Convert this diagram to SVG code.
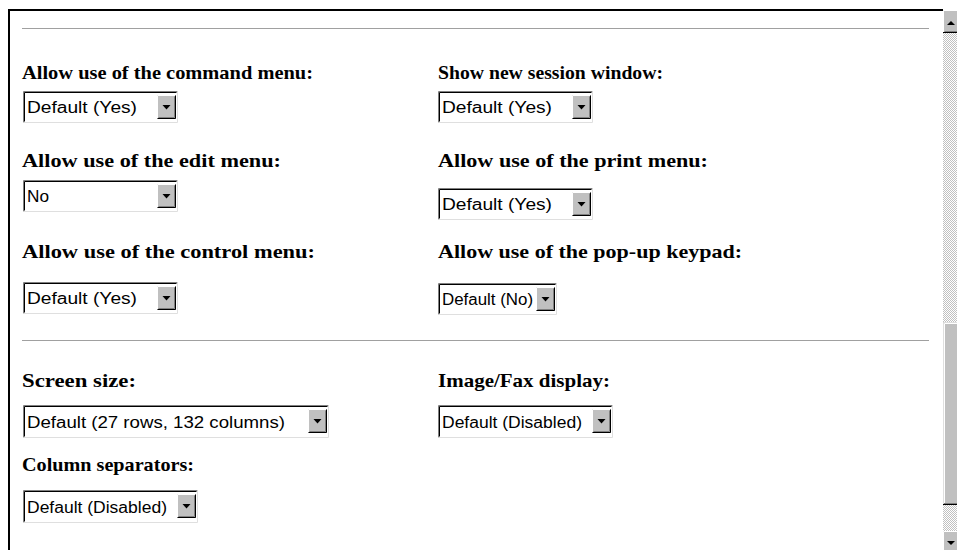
<svg xmlns="http://www.w3.org/2000/svg" width="957" height="550" viewBox="0 0 957 550">
  <style>
    .lbl { font-family: "Liberation Serif", "Times New Roman", serif; font-weight: bold; font-size: 19px; fill: #000; }
    .opt { font-family: "Liberation Sans", Arial, sans-serif; font-size: 16px; fill: #000; }
    .rule { stroke: #a0a0a0; stroke-width: 1; }
    .box { fill: #fff; }
    .dk { stroke: #000; stroke-width: 1; fill: none; }
    .md { stroke: #808080; stroke-width: 1; fill: none; }
    .lt { stroke: #dfdfdf; stroke-width: 1; fill: none; }
    .wt { stroke: #fff; stroke-width: 1; fill: none; }
    .btn { fill: #c0c0c0; }
  </style>
  <defs>
    <pattern id="dither" width="2" height="2" patternUnits="userSpaceOnUse">
      <rect width="2" height="2" fill="#ffffff"/>
      <rect width="1" height="1" fill="#c0c0c0"/>
      <rect x="1" y="1" width="1" height="1" fill="#c0c0c0"/>
    </pattern>
    <!-- drop-down arrow button, 19x24, placed per select -->
    <g id="dropbtn">
      <rect class="btn" x="0" y="0" width="19" height="24"/>
      <path class="wt" d="M0.5 23.5V0.5H18.5"/>
      <path class="dk" d="M0.5 23.5H18.5V0.5"/>
      <path class="md" d="M1.5 22.5H17.5V1.5"/>
      <path d="M5.5 10H13.5L9.5 14.5Z" fill="#000"/>
    </g>
  </defs>

  <rect width="957" height="550" fill="#fff"/>

  <!-- page frame -->
  <path d="M9 550V10H943" stroke="#000" stroke-width="2" fill="none"/>

  <!-- horizontal rules -->
  <line class="rule" x1="22" y1="28.5" x2="929" y2="28.5"/>
  <line class="rule" x1="22" y1="340.5" x2="929" y2="340.5"/>

  <!-- scrollbar -->
  <g id="scrollbar">
    <rect x="943" y="10" width="14" height="540" fill="url(#dither)"/>
    <g transform="translate(943,10)">
      <rect class="btn" width="14" height="23"/>
      <path class="wt" d="M0.5 22.5V0.5H14"/>
      <path class="dk" d="M0 22.5H14"/>
      <path class="md" d="M1.5 21.5H14"/>
      <path d="M4 15H12L8 11Z" fill="#000"/>
    </g>
    <g transform="translate(943,322)">
      <rect class="btn" width="14" height="183"/>
      <path class="lt" d="M0.5 182V0.5H14"/>
      <path class="wt" d="M1.5 181V1.5H14"/>
      <path class="dk" d="M0 182.5H14"/>
      <path class="md" d="M1 181.5H14"/>
    </g>
    <g transform="translate(943,531)">
      <rect class="btn" width="14" height="19"/>
      <path class="wt" d="M0.5 19V0.5H14"/>
      <path d="M4 10H12L8 14Z" fill="#000"/>
    </g>
  </g>

  <!-- row 1 -->
  <g id="cmd-menu">
    <text class="lbl" x="22" y="79" textLength="291" lengthAdjust="spacingAndGlyphs">Allow use of the command menu:</text>
    <rect class="box" x="23" y="91" width="155" height="32"/>
    <path class="md" d="M23.5 122.5V91.5H177.5"/>
    <path class="dk" d="M24.5 121.5V92.5H176.5"/>
    <path class="lt" d="M23.5 122.5H177.5V91.5"/>
    <text class="opt" x="27" y="113" textLength="110" lengthAdjust="spacingAndGlyphs">Default (Yes)</text>
    <use href="#dropbtn" x="157" y="95"/>
  </g>
  <g id="session-window">
    <text class="lbl" x="438" y="79" textLength="225" lengthAdjust="spacingAndGlyphs">Show new session window:</text>
    <rect class="box" x="438" y="91" width="155" height="32"/>
    <path class="md" d="M438.5 122.5V91.5H592.5"/>
    <path class="dk" d="M439.5 121.5V92.5H591.5"/>
    <path class="lt" d="M438.5 122.5H592.5V91.5"/>
    <text class="opt" x="442" y="113" textLength="110" lengthAdjust="spacingAndGlyphs">Default (Yes)</text>
    <use href="#dropbtn" x="572" y="95"/>
  </g>

  <!-- row 2 -->
  <g id="edit-menu">
    <text class="lbl" x="22" y="167" textLength="259" lengthAdjust="spacingAndGlyphs">Allow use of the edit menu:</text>
    <rect class="box" x="23" y="180" width="155" height="32"/>
    <path class="md" d="M23.5 211.5V180.5H177.5"/>
    <path class="dk" d="M24.5 210.5V181.5H176.5"/>
    <path class="lt" d="M23.5 211.5H177.5V180.5"/>
    <text class="opt" x="27" y="202" textLength="22" lengthAdjust="spacingAndGlyphs">No</text>
    <use href="#dropbtn" x="157" y="184"/>
  </g>
  <g id="print-menu">
    <text class="lbl" x="438" y="167" textLength="270" lengthAdjust="spacingAndGlyphs">Allow use of the print menu:</text>
    <rect class="box" x="438" y="188" width="155" height="32"/>
    <path class="md" d="M438.5 219.5V188.5H592.5"/>
    <path class="dk" d="M439.5 218.5V189.5H591.5"/>
    <path class="lt" d="M438.5 219.5H592.5V188.5"/>
    <text class="opt" x="442" y="210" textLength="110" lengthAdjust="spacingAndGlyphs">Default (Yes)</text>
    <use href="#dropbtn" x="572" y="192"/>
  </g>

  <!-- row 3 -->
  <g id="control-menu">
    <text class="lbl" x="22" y="258" textLength="293" lengthAdjust="spacingAndGlyphs">Allow use of the control menu:</text>
    <rect class="box" x="23" y="282" width="155" height="32"/>
    <path class="md" d="M23.5 313.5V282.5H177.5"/>
    <path class="dk" d="M24.5 312.5V283.5H176.5"/>
    <path class="lt" d="M23.5 313.5H177.5V282.5"/>
    <text class="opt" x="27" y="304" textLength="110" lengthAdjust="spacingAndGlyphs">Default (Yes)</text>
    <use href="#dropbtn" x="157" y="286"/>
  </g>
  <g id="popup-keypad">
    <text class="lbl" x="438" y="258" textLength="304" lengthAdjust="spacingAndGlyphs">Allow use of the pop-up keypad:</text>
    <rect class="box" x="438" y="283" width="119" height="32"/>
    <path class="md" d="M438.5 314.5V283.5H556.5"/>
    <path class="dk" d="M439.5 313.5V284.5H555.5"/>
    <path class="lt" d="M438.5 314.5H556.5V283.5"/>
    <text class="opt" x="442" y="305" textLength="91" lengthAdjust="spacingAndGlyphs">Default (No)</text>
    <use href="#dropbtn" x="536" y="287"/>
  </g>

  <!-- row 4 -->
  <g id="screen-size">
    <text class="lbl" x="22" y="387" textLength="114" lengthAdjust="spacingAndGlyphs">Screen size:</text>
    <rect class="box" x="23" y="405" width="306" height="33"/>
    <path class="md" d="M23.5 437.5V405.5H328.5"/>
    <path class="dk" d="M24.5 436.5V406.5H327.5"/>
    <path class="lt" d="M23.5 437.5H328.5V405.5"/>
    <text class="opt" x="27" y="428" textLength="258" lengthAdjust="spacingAndGlyphs">Default (27 rows, 132 columns)</text>
    <use href="#dropbtn" x="308" y="409"/>
  </g>
  <g id="image-fax">
    <text class="lbl" x="438" y="387" textLength="172" lengthAdjust="spacingAndGlyphs">Image/Fax display:</text>
    <rect class="box" x="438" y="405" width="175" height="33"/>
    <path class="md" d="M438.5 437.5V405.5H612.5"/>
    <path class="dk" d="M439.5 436.5V406.5H611.5"/>
    <path class="lt" d="M438.5 437.5H612.5V405.5"/>
    <text class="opt" x="442" y="428" textLength="140" lengthAdjust="spacingAndGlyphs">Default (Disabled)</text>
    <use href="#dropbtn" x="592" y="409"/>
  </g>

  <!-- row 5 -->
  <g id="column-separators">
    <text class="lbl" x="22" y="471" textLength="172" lengthAdjust="spacingAndGlyphs">Column separators:</text>
    <rect class="box" x="23" y="490" width="175" height="33"/>
    <path class="md" d="M23.5 522.5V490.5H197.5"/>
    <path class="dk" d="M24.5 521.5V491.5H196.5"/>
    <path class="lt" d="M23.5 522.5H197.5V490.5"/>
    <text class="opt" x="27" y="513" textLength="140" lengthAdjust="spacingAndGlyphs">Default (Disabled)</text>
    <use href="#dropbtn" x="177" y="494"/>
  </g>
</svg>
